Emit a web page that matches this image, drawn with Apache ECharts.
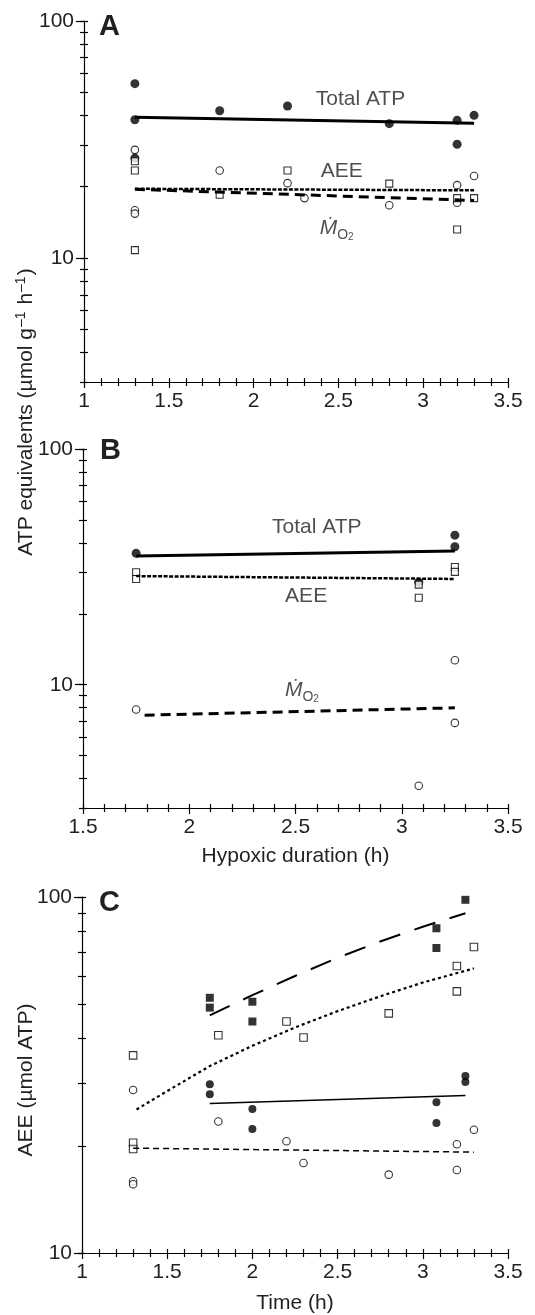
<!DOCTYPE html>
<html>
<head>
<meta charset="utf-8">
<style>
  html, body { margin: 0; padding: 0; background: #fff; }
  #chart { width: 535px; height: 1315px; }
</style>
<script src="https://cdn.jsdelivr.net/npm/echarts@6/dist/echarts.min.js"></script>
</head>
<body>
<div id="chart"></div>
<script>
var font = '"Liberation Sans", Arial, Helvetica, sans-serif'
var ink = '#231f20'

// Panel A  (rates vs hypoxic duration, h)
var aTotal = [[1.3,54.4],[1.3,38.3],[1.3,26.4],[1.8,41.8],[2.2,43.8],[2.8,36.9],[3.2,38.1],[3.2,30.2],[3.3,40.0]]
var aMo2 = [[1.3,28.6],[1.3,15.9],[1.3,15.4],[1.8,23.4],[2.2,20.7],[2.3,17.9],[2.8,16.7],[3.2,20.3],[3.2,17.1],[3.3,22.2]]
var aAee = [[1.3,25.6],[1.3,23.4],[1.3,10.8],[1.8,18.5],[2.2,23.4],[2.8,20.6],[3.2,17.9],[3.2,13.2],[3.3,17.9]]
var aFitTotal = [[1.3,39.3],[3.3,37.0]]
var aFitAee = [[1.3,19.6],[3.3,19.3]]
var aFitMo2 = [[1.3,19.5],[3.3,17.5]]
var aNotes = [[2.63,47,'Total ATP'],[2.52,23.2,'AEE'],[2.49,13.4,'{m|Ṁ}{o|O}{t|2}']]

// Panel B
var bTotal = [[1.75,36.1],[3.08,27.2],[3.25,43.1],[3.25,38.5]]
var bAee = [[1.75,30.0],[1.75,28.1],[3.08,26.6],[3.08,23.4],[3.25,31.6],[3.25,30.1]]
var bMo2 = [[1.75,7.85],[3.08,3.73],[3.25,12.7],[3.25,6.89]]
var bFitTotal = [[1.75,35.2],[3.25,36.9]]
var bFitAee = [[1.75,28.9],[3.25,28.1]]
var bFitMo2 = [[1.79,7.43],[3.25,7.98]]
var bNotes = [[2.6,46.6,'Total ATP'],[2.55,23.8,'AEE'],[2.53,9.5,'{m|Ṁ}{o|O}{t|2}']]

// Panel C  (AEE vs time, h)
var cSqFilled = [[1.75,52.1],[1.75,48.9],[2.0,50.8],[2.0,44.7],[3.08,81.7],[3.08,71.9],[3.25,98.2]]
var cSqOpen = [[1.3,35.9],[1.3,20.4],[1.3,19.6],[1.8,40.9],[2.2,44.7],[2.3,40.3],[2.8,47.1],[3.2,64.0],[3.2,54.3],[3.3,72.4]]
var cDotFilled = [[1.75,29.8],[1.75,27.9],[2.0,25.4],[2.0,22.3],[3.08,26.5],[3.08,23.2],[3.25,31.4],[3.25,30.2]]
var cDotOpen = [[1.3,28.7],[1.3,15.9],[1.3,15.6],[1.8,23.4],[2.2,20.6],[2.3,17.9],[2.8,16.6],[3.2,20.2],[3.2,17.1],[3.3,22.2]]
var cFitSqFilled = [[1.75,46.5],[2.0,53],[2.25,60],[2.5,67.5],[2.75,75],[3.0,82.5],[3.25,90]]
var cFitSqOpen = [[1.32,25.3],[1.5,28.5],[1.75,33.5],[2.0,38.2],[2.25,43],[2.5,47.8],[2.75,52.6],[3.0,57.5],[3.3,63]]
var cFitDotFilled = [[1.75,26.3],[3.25,27.7]]
var cFitDotOpen = [[1.3,19.7],[3.3,19.2]]

var yLabelsAB = [10, 100]
var yMinorAB = [3,4,5,6,7,8,9,10,20,30,40,50,60,70,80,90,100]
var yMinorC = [10,20,30,40,50,60,70,80,90,100]

var chart = echarts.init(document.getElementById('chart'))

var lineCol = { color: '#000', width: 1.2 }

function xAxes(g, min, name, gap) {
  return [{
    gridIndex: g, type: 'value', min: min, max: 3.5, interval: 0.5, position: 'bottom',
    name: name, nameLocation: 'middle', nameGap: gap,
    nameTextStyle: { fontFamily: font, fontSize: 21, color: ink },
    axisLine: { onZero: false, lineStyle: lineCol },
    axisTick: { length: 6, lineStyle: lineCol },
    minorTick: { show: true, splitNumber: 5, length: 4, lineStyle: lineCol },
    axisLabel: { margin: 9, fontFamily: font, fontSize: 21, color: ink },
    splitLine: { show: false }, minorSplitLine: { show: false }
  }, {
    gridIndex: g, type: 'value', min: min, max: 3.5, interval: 0.5, position: 'bottom',
    axisLine: { show: false, onZero: false },
    axisTick: { inside: true, length: 4, lineStyle: lineCol },
    minorTick: { show: true, splitNumber: 5, length: 4, lineStyle: lineCol },
    axisLabel: { show: false },
    splitLine: { show: false }, minorSplitLine: { show: false }
  }]
}

function yAxes(g, min, labels, minor) {
  var base = { gridIndex: g, type: 'log', logBase: 10, min: min, max: 100, position: 'left', splitLine: { show: false } }
  return [
    Object.assign({}, base, {
      axisLine: { onZero: false, lineStyle: lineCol },
      axisTick: { length: 8, customValues: labels, lineStyle: lineCol },
      axisLabel: { customValues: labels, margin: 10, fontFamily: font, fontSize: 21, color: ink }
    }),
    Object.assign({}, base, {
      axisLine: { show: false, onZero: false },
      axisTick: { length: 4, customValues: minor, lineStyle: lineCol },
      axisLabel: { show: false }
    }),
    Object.assign({}, base, {
      axisLine: { show: false, onZero: false },
      axisTick: { inside: true, length: 4, customValues: minor, lineStyle: lineCol },
      axisLabel: { show: false }
    })
  ]
}

function pts(g, data, symbol, size, filled) {
  return {
    type: 'scatter', xAxisIndex: 2 * g, yAxisIndex: 3 * g, data: data,
    symbol: symbol, symbolSize: size, z: 3,
    itemStyle: filled ? { color: '#000' } : { color: '#fff', borderColor: '#000', borderWidth: 1.1 }
  }
}

function fit(g, data, width, dash) {
  return {
    type: 'line', xAxisIndex: 2 * g, yAxisIndex: 3 * g, data: data,
    symbol: 'none', z: 4, silent: true,
    lineStyle: { color: '#000', width: width, type: dash }
  }
}

var rich = {
  m: { fontFamily: font, fontSize: 21, fontStyle: 'italic', color: ink, lineHeight: 28, verticalAlign: 'middle' },
  o: { fontFamily: font, fontSize: 14, color: ink, verticalAlign: 'bottom' },
  t: { fontFamily: font, fontSize: 10, color: ink, verticalAlign: 'bottom' }
}

function notes(g, list) {
  return {
    type: 'scatter', xAxisIndex: 2 * g, yAxisIndex: 3 * g, silent: true,
    symbolSize: 1, itemStyle: { color: 'rgba(0,0,0,0)' }, z: 5,
    data: list.map(function (n) {
      return { value: [n[0], n[1]], label: { formatter: n[2] } }
    }),
    label: { show: true, position: 'inside', fontFamily: font, fontSize: 21, color: ink, rich: rich }
  }
}

var supRich = { s: { fontFamily: font, fontSize: 14, color: ink, padding: [0, 1, 9, 1] } }

chart.setOption({
  animation: false,
  backgroundColor: '#fff',
  grid: [
    { left: 84, right: 27, top: 21, height: 361 },
    { left: 83, right: 27, top: 449, height: 359 },
    { left: 82, right: 27, top: 897, height: 359 }
  ],
  xAxis: [].concat(
    xAxes(0, 1, '', 0),
    xAxes(1, 1.5, 'Hypoxic duration (h)', 38),
    xAxes(2, 1, 'Time (h)', 40)
  ),
  yAxis: [].concat(
    yAxes(0, 3, yLabelsAB, yMinorAB),
    yAxes(1, 3, yLabelsAB, yMinorAB),
    yAxes(2, 10, yLabelsAB, yMinorC)
  ),
  graphic: [
    { type: 'text', x: 99, y: 12, style: { text: 'A', font: 'bold 29px ' + font, fill: ink } },
    { type: 'text', x: 100, y: 436, style: { text: 'B', font: 'bold 29px ' + font, fill: ink } },
    { type: 'text', x: 99, y: 888, style: { text: 'C', font: 'bold 29px ' + font, fill: ink } },
    { type: 'text', x: 26, y: 412, rotation: Math.PI / 2,
      style: { text: 'ATP equivalents (µmol g{s|–1} h{s|–1})', rich: supRich, font: '21px ' + font, fill: ink,
        align: 'center', verticalAlign: 'middle', textAlign: 'center', textVerticalAlign: 'middle' } },
    { type: 'text', x: 26, y: 1080, rotation: Math.PI / 2,
      style: { text: 'AEE (µmol ATP)', font: '21px ' + font, fill: ink,
        align: 'center', verticalAlign: 'middle', textAlign: 'center', textVerticalAlign: 'middle' } }
  ],
  series: [
    pts(0, aTotal, 'circle', 9, true),
    pts(0, aMo2, 'circle', 7.5, false),
    pts(0, aAee, 'rect', 7, false),
    fit(0, aFitTotal, 3, 'solid'),
    fit(0, aFitAee, 2.5, [4, 1.5]),
    fit(0, aFitMo2, 3, [10, 6]),
    notes(0, aNotes),

    pts(1, bTotal, 'circle', 9, true),
    pts(1, bAee, 'rect', 7, false),
    pts(1, bMo2, 'circle', 7.5, false),
    fit(1, bFitTotal, 3, 'solid'),
    fit(1, bFitAee, 2.5, [4, 1.5]),
    fit(1, bFitMo2, 3, [10, 6]),
    notes(1, bNotes),

    pts(2, cSqFilled, 'rect', 8, true),
    pts(2, cSqOpen, 'rect', 7.5, false),
    pts(2, cDotFilled, 'circle', 8, true),
    pts(2, cDotOpen, 'circle', 7.5, false),
    fit(2, cFitSqFilled, 2, [22, 15]),
    fit(2, cFitSqOpen, 2.2, [3, 3]),
    fit(2, cFitDotFilled, 1.5, 'solid'),
    fit(2, cFitDotOpen, 1.5, [6, 4])
  ]
})
</script>
</body>
</html>
